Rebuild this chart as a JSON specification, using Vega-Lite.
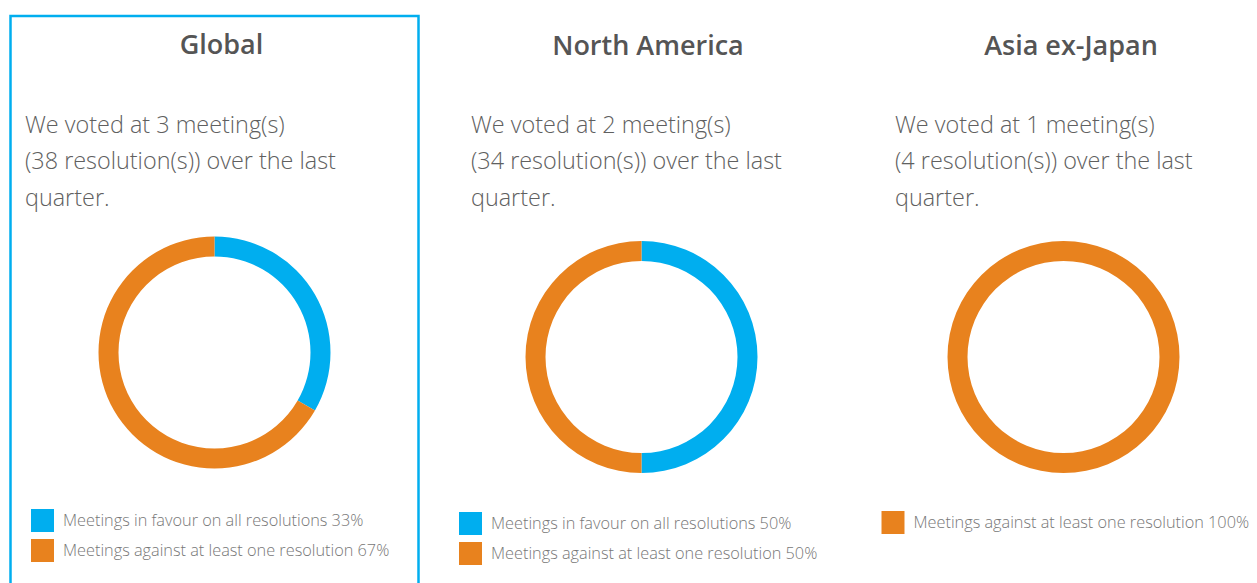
{
  "$schema": "https://vega.github.io/schema/vega-lite/v6.json",
  "padding": {"left": 8.5, "top": 14, "right": 0, "bottom": 0},
  "background": "white",
  "config": {
    "view": {"stroke": null},
    "font": "Open Sans",
    "concat": {"spacing": 20},
    "legend": {
      "orient": "none",
      "symbolType": "square",
      "symbolSize": 529,
      "symbolStrokeWidth": 0,
      "symbolOpacity": 1,
      "labelFont": "Open Sans",
      "labelFontSize": 16.3,
      "labelFontWeight": 300,
      "labelColor": "#777777",
      "labelOffset": 9,
      "labelLimit": 500,
      "rowPadding": 7,
      "title": null
    }
  },
  "datasets": {
    "votes": [
      {"region": "Global", "status": "favour", "label": "Meetings in favour on all resolutions 33%", "meetings": 1, "order": 1},
      {"region": "Global", "status": "against", "label": "Meetings against at least one resolution 67%", "meetings": 2, "order": 2},
      {"region": "North America", "status": "favour", "label": "Meetings in favour on all resolutions 50%", "meetings": 1, "order": 1},
      {"region": "North America", "status": "against", "label": "Meetings against at least one resolution 50%", "meetings": 1, "order": 2},
      {"region": "Asia ex-Japan", "status": "against", "label": "Meetings against at least one resolution 100%", "meetings": 1, "order": 2}
    ]
  },
  "resolve": {"scale": {"color": "independent", "theta": "independent"}, "legend": {"color": "independent"}},
  "hconcat": [
    {
      "title": {"text": "Global", "anchor": "middle", "offset": 0, "dy": 45, "dx": 7, "fontSize": 27, "fontWeight": 600, "color": "#555555"},
      "vconcat": [
        {
          "width": 408,
          "height": 673,
          "view": {"stroke": "#00AEEF", "strokeWidth": 2.5},
          "title": {"text": ["We voted at 3 meeting(s)", "(38 resolution(s)) over the last", "quarter."], "anchor": "start", "offset": 0, "dy": 195, "dx": 14.5, "fontSize": 23.4, "fontWeight": 300, "lineHeight": 36.5, "color": "#606060"},
          "data": {"name": "votes"},
          "transform": [{"filter": "datum.region === 'Global'"}],
          "mark": {"type": "arc", "outerRadius": 116, "innerRadius": 96},
          "encoding": {
            "theta": {"field": "meetings", "type": "quantitative", "stack": true},
            "order": {"field": "order", "type": "quantitative"},
            "color": {
              "field": "label", "type": "nominal",
              "scale": {"domain": ["Meetings in favour on all resolutions 33%", "Meetings against at least one resolution 67%"], "range": ["#00AEEF", "#E8821E"]},
              "legend": {"legendX": 20.5, "legendY": 493}
            }
          }
        }
      ]
    },
    {
      "title": {"text": "North America", "anchor": "middle", "offset": 0, "dy": 45, "dx": 6.5, "fontSize": 27, "fontWeight": 600, "color": "#555555"},
      "vconcat": [
        {
          "width": 402,
          "height": 682,
          "title": {"text": ["We voted at 2 meeting(s)", "(34 resolution(s)) over the last", "quarter."], "anchor": "start", "offset": 0, "dy": 195, "dx": 30.5, "fontSize": 23.4, "fontWeight": 300, "lineHeight": 36.5, "color": "#606060"},
          "data": {"name": "votes"},
          "transform": [{"filter": "datum.region === 'North America'"}],
          "mark": {"type": "arc", "outerRadius": 116, "innerRadius": 96},
          "encoding": {
            "theta": {"field": "meetings", "type": "quantitative", "stack": true},
            "order": {"field": "order", "type": "quantitative"},
            "color": {
              "field": "label", "type": "nominal",
              "scale": {"domain": ["Meetings in favour on all resolutions 50%", "Meetings against at least one resolution 50%"], "range": ["#00AEEF", "#E8821E"]},
              "legend": {"legendX": 18.5, "legendY": 496}
            }
          }
        }
      ]
    },
    {
      "title": {"text": "Asia ex-Japan", "anchor": "middle", "offset": 0, "dy": 45, "dx": 7.5, "fontSize": 27, "fontWeight": 600, "color": "#555555"},
      "vconcat": [
        {
          "width": 402,
          "height": 682,
          "title": {"text": ["We voted at 1 meeting(s)", "(4 resolution(s)) over the last", "quarter."], "anchor": "start", "offset": 0, "dy": 195, "dx": 32.5, "fontSize": 23.4, "fontWeight": 300, "lineHeight": 36.5, "color": "#606060"},
          "data": {"name": "votes"},
          "transform": [{"filter": "datum.region === 'Asia ex-Japan'"}],
          "mark": {"type": "arc", "outerRadius": 116, "innerRadius": 96},
          "encoding": {
            "theta": {"field": "meetings", "type": "quantitative", "stack": true},
            "order": {"field": "order", "type": "quantitative"},
            "color": {
              "field": "label", "type": "nominal",
              "scale": {"domain": ["Meetings against at least one resolution 100%"], "range": ["#E8821E"]},
              "legend": {"legendX": 19, "legendY": 495}
            }
          }
        }
      ]
    }
  ]
}
